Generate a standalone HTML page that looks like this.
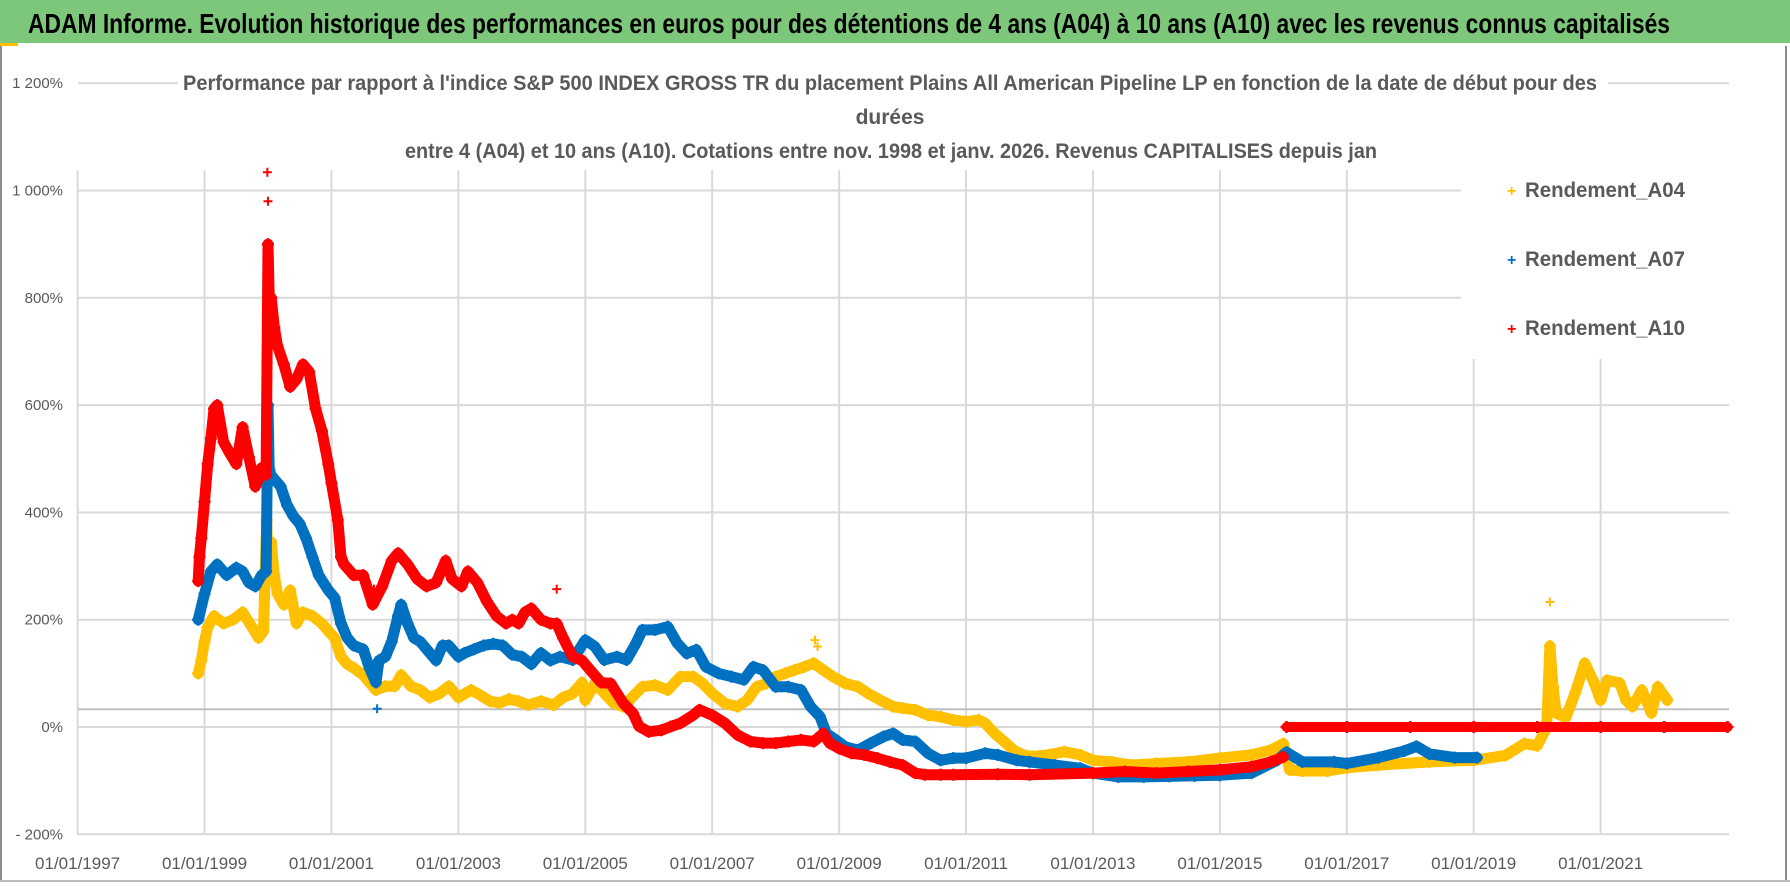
<!DOCTYPE html>
<html><head><meta charset="utf-8">
<style>
html,body{margin:0;padding:0;background:#fff;}
svg{display:block;font-family:"Liberation Sans",sans-serif;}
</style></head>
<body>
<svg id="chart" width="1790" height="886" viewBox="0 0 1790 886" xmlns="http://www.w3.org/2000/svg">
<rect x="0" y="0" width="1790" height="886" fill="#fff"/>
<rect x="0" y="0" width="1790" height="43" fill="#7DC77A"/>
<text x="28" y="33" font-size="28" font-weight="bold" fill="#000" textLength="1642" lengthAdjust="spacingAndGlyphs">ADAM Informe. Evolution historique des performances en euros pour des détentions de 4 ans (A04) à 10 ans (A10) avec les revenus connus capitalisés</text>
<rect x="0" y="43" width="18" height="3" fill="#FFC000"/>
<line x1="1" y1="46" x2="1" y2="880" stroke="#8c8c8c" stroke-width="2"/>
<line x1="1786" y1="46" x2="1786" y2="880" stroke="#8c8c8c" stroke-width="2"/>
<line x1="0" y1="881" x2="1790" y2="881" stroke="#bbb" stroke-width="2"/>
<g id="grid"></g>
<g id="axisLabels"></g>
<rect x="178" y="66" width="1430" height="100" fill="#fff"/>
<g fill="#595959" font-size="21" font-weight="bold" text-anchor="middle">
<text x="890" y="90" textLength="1414" lengthAdjust="spacingAndGlyphs">Performance par rapport à l'indice S&amp;P 500 INDEX GROSS TR  du placement Plains All American Pipeline LP en fonction de la date de début pour des</text>
<text x="890" y="124">durées</text>
<text x="891" y="158" textLength="972" lengthAdjust="spacingAndGlyphs">entre 4 (A04) et 10 ans (A10). Cotations entre nov. 1998 et janv. 2026. Revenus CAPITALISES depuis jan</text>
</g>
<rect x="1461" y="168" width="268" height="191" fill="#fff"/>
<g font-size="21" fill="#595959" font-weight="bold">
<g><text x="1507" y="196" fill="#FFC000" font-size="16">+</text><text x="1525" y="197" textLength="160" lengthAdjust="spacingAndGlyphs">Rendement_A04</text></g>
<g><text x="1507" y="265" fill="#0070C0" font-size="16">+</text><text x="1525" y="266" textLength="160" lengthAdjust="spacingAndGlyphs">Rendement_A07</text></g>
<g><text x="1507" y="334" fill="#FF0000" font-size="16">+</text><text x="1525" y="335" textLength="160" lengthAdjust="spacingAndGlyphs">Rendement_A10</text></g>
</g>
<g id="series"></g>
</svg>
<script>
const yTickValues = [1200,1000,800,600,400,200,0,-200];
const yTickLabels = ["1 200%","1 000%","800%","600%","400%","200%","0%","- 200%"];
const xTickYears = [1997,1999,2001,2003,2005,2007,2009,2011,2013,2015,2017,2019,2021];
const xTickLabels = ["01/01/1997","01/01/1999","01/01/2001","01/01/2003","01/01/2005","01/01/2007","01/01/2009","01/01/2011","01/01/2013","01/01/2015","01/01/2017","01/01/2019","01/01/2021"];
const axisCrossValue = 33;

const a04Years = [1998.9,1998.95,1999.0,1999.05,1999.15,1999.3,1999.45,1999.6,1999.75,1999.85,1999.93,1999.98,2000.0,2000.05,2000.1,2000.15,2000.25,2000.35,2000.45,2000.55,2000.7,2000.85,2000.95,2001.05,2001.15,2001.25,2001.35,2001.5,2001.6,2001.7,2001.85,2002.0,2002.1,2002.25,2002.4,2002.55,2002.7,2002.85,2003.0,2003.2,2003.35,2003.5,2003.65,2003.8,2003.95,2004.1,2004.3,2004.5,2004.65,2004.8,2004.95,2005.0,2005.15,2005.3,2005.45,2005.6,2005.75,2005.9,2006.1,2006.3,2006.5,2006.7,2006.85,2007.0,2007.2,2007.4,2007.55,2007.7,2007.85,2008.0,2008.15,2008.3,2008.45,2008.6,2008.75,2008.9,2009.1,2009.3,2009.45,2009.65,2009.85,2010.0,2010.2,2010.4,2010.6,2010.8,2011.0,2011.2,2011.3,2011.45,2011.6,2011.75,2011.9,2012.05,2012.3,2012.55,2012.8,2013.0,2013.3,2013.6,2014.0,2014.5,2015.0,2015.5,2015.8,2016.0,2016.1,2016.3,2016.7,2017.0,2017.5,2018.3,2019.0,2019.5,2019.8,2020.0,2020.15,2020.2,2020.25,2020.3,2020.45,2020.6,2020.75,2020.9,2021.0,2021.1,2021.3,2021.4,2021.5,2021.65,2021.8,2021.9,2022.05];
const a04Values = [100,124,159,186,207,193,200,214,186,166,179,386,300,345,283,248,228,255,193,214,207,193,179,166,131,117,110,97,83,69,76,76,97,76,69,55,62,76,55,69,59,48,45,52,48,41,48,41,55,62,83,50,81,63,44,38,57,75,78,69,94,94,81,63,44,38,50,75,81,94,100,106,112,119,106,94,81,75,63,50,38,35,32,22,19,13,10,13,7,-12,-27,-43,-52,-55,-52,-46,-52,-62,-65,-71,-68,-65,-58,-52,-43,-31,-80,-82,-82,-76,-71,-65,-62,-53,-31,-35,0,151,75,26,17,64,119,82,50,87,82,50,38,69,26,75,50];
const a04OutYears = [2020.2,2008.62,2008.66];
const a04OutValues = [233,162,150];

const a07Years = [1998.9,1999.0,1999.1,1999.2,1999.35,1999.5,1999.6,1999.7,1999.8,1999.9,1999.97,2000.0,2000.02,2000.05,2000.1,2000.2,2000.3,2000.4,2000.5,2000.6,2000.7,2000.8,2000.95,2001.05,2001.15,2001.25,2001.35,2001.5,2001.6,2001.7,2001.75,2001.85,2001.95,2002.05,2002.1,2002.2,2002.3,2002.4,2002.5,2002.65,2002.75,2002.85,2003.0,2003.1,2003.25,2003.4,2003.55,2003.7,2003.85,2004.0,2004.15,2004.3,2004.45,2004.6,2004.8,2005.0,2005.15,2005.3,2005.5,2005.65,2005.8,2005.9,2006.1,2006.3,2006.45,2006.6,2006.75,2006.9,2007.1,2007.3,2007.5,2007.65,2007.8,2008.0,2008.2,2008.4,2008.55,2008.7,2008.8,2008.95,2009.1,2009.3,2009.5,2009.7,2009.85,2010.0,2010.2,2010.4,2010.6,2010.8,2011.0,2011.3,2011.5,2011.8,2012.0,2012.4,2012.8,2013.0,2013.4,2013.8,2014.2,2014.6,2015.0,2015.5,2015.9,2016.05,2016.3,2016.8,2017.0,2017.5,2017.9,2018.1,2018.3,2018.7,2019.05];
const a07Values = [200,248,290,303,283,297,290,269,262,283,290,600,480,469,462,448,414,393,379,352,317,283,255,241,193,166,152,145,110,83,124,131,159,207,228,193,166,159,145,124,152,152,131,138,145,152,155,152,135,131,117,138,124,131,125,162,150,125,131,125,156,181,181,187,156,137,144,112,100,94,88,112,106,75,75,69,38,19,-12,-24,-37,-43,-30,-18,-12,-24,-27,-49,-62,-58,-58,-49,-52,-62,-65,-71,-77,-86,-93,-93,-92,-91,-90,-86,-62,-47,-65,-65,-68,-57,-45,-36,-50,-57,-57];
const a07OutYears = [1999.99,2000.0,2000.01,2001.72];
const a07OutValues = [700,650,550,34];

const a10Years = [1998.9,1998.92,1998.95,1999.0,1999.05,1999.1,1999.15,1999.2,1999.3,1999.4,1999.5,1999.6,1999.7,1999.8,1999.85,1999.9,1999.97,2000.0,2000.02,2000.05,2000.1,2000.15,2000.25,2000.35,2000.45,2000.55,2000.65,2000.75,2000.85,2000.95,2001.0,2001.1,2001.15,2001.2,2001.35,2001.5,2001.65,2001.8,2001.95,2002.05,2002.2,2002.35,2002.5,2002.65,2002.8,2002.9,2003.05,2003.15,2003.3,2003.45,2003.6,2003.75,2003.85,2003.95,2004.05,2004.15,2004.3,2004.45,2004.55,2004.65,2004.8,2004.95,2005.1,2005.25,2005.4,2005.6,2005.75,2005.85,2006.0,2006.2,2006.35,2006.5,2006.7,2006.8,2007.0,2007.2,2007.4,2007.6,2007.8,2008.0,2008.2,2008.4,2008.6,2008.75,2008.85,2009.0,2009.2,2009.4,2009.6,2009.8,2010.0,2010.2,2010.35,2010.6,2010.8,2011.5,2012.0,2013.0,2013.5,2014.0,2014.5,2015.0,2015.5,2015.8,2016.0];
const a10Values = [272,317,352,420,490,538,593,600,531,510,490,559,503,448,462,483,470,900,800,800,745,710,676,634,648,676,662,593,552,490,455,386,317,303,283,283,228,262,310,324,303,276,262,269,310,276,262,290,269,234,207,193,200,193,214,221,200,193,193,166,131,124,103,83,81,44,26,1,-9,-6,1,7,22,32,22,7,-15,-27,-30,-30,-27,-24,-27,-12,-30,-40,-49,-52,-58,-65,-71,-86,-89,-89,-89,-88,-89,-86,-83,-86,-83,-80,-74,-65,-56];
const a10FlatYears = [2016.05,2017,2018,2019,2020,2021,2022,2023];
const a10FlatValues = [0,0,0,0,0,0,0,0];
const a10OutYears = [1999.99,2000.0,2000.01,2000.03,2001.67,2004.55];
const a10OutValues = [1034,980,880,740,257,257];

const NS = "http://www.w3.org/2000/svg";
const X0 = 77.6, PX_PER_YEAR = 63.46, Y0 = 727, PX_PER_PCT = 0.5365;
const PLOT_LEFT = 78, PLOT_RIGHT = 1729, PLOT_TOP = 170, PLOT_BOTTOM = 835;
function xScale(year){ return X0 + (year - 1997) * PX_PER_YEAR; }
function yScale(v){ return Y0 - v * PX_PER_PCT; }
function mk(tag, attrs, parent){
  const el = document.createElementNS(NS, tag);
  for (const k in attrs) el.setAttribute(k, attrs[k]);
  parent.appendChild(el);
  return el;
}
const grid = document.getElementById('grid');
const labels = document.getElementById('axisLabels');
yTickValues.forEach((v, i) => {
  const y = yScale(v);
  const ln = mk('line', {x1: PLOT_LEFT, x2: PLOT_RIGHT, y1: y, y2: y, stroke: '#d9d9d9', 'stroke-width': 2}, grid);
  
  
  const t = mk('text', {x: 63, y: y + 5, 'text-anchor': 'end', 'font-size': 15, fill: '#595959'}, labels);
  t.textContent = yTickLabels[i];
  
  
});
xTickYears.forEach((yr, i) => {
  const x = xScale(yr);
  const top = (x > 1461) ? 359 : PLOT_TOP;
  const ln = mk('line', {x1: x, x2: x, y1: top, y2: PLOT_BOTTOM, stroke: '#d9d9d9', 'stroke-width': 2}, grid);
  
  
  const t = mk('text', {x: x, y: 869, 'text-anchor': 'middle', 'font-size': 17, fill: '#595959'}, labels);
  t.textContent = xTickLabels[i];
  
  
});
const axisY = yScale(axisCrossValue);
const axl = mk('line', {x1: PLOT_LEFT, x2: PLOT_RIGHT, y1: axisY, y2: axisY, stroke: '#bfbfbf', 'stroke-width': 2}, grid);



const seriesG = document.getElementById('series');
function plusPath(x, y, s){ return `M${x-s},${y}H${x+s}M${x},${y-s}V${y+s}`; }
function drawSeries(name, years, values, color, width){
  const g = mk('g', {}, seriesG);
  
  
  const n = Math.min(years.length, values.length);
  const pts = [];
  let d = '';
  for (let i = 0; i < n; i++){
    const x = xScale(years[i]), y = yScale(values[i]);
    pts.push(x.toFixed(1) + ',' + y.toFixed(1));
    d += plusPath(x, y, 6);
  }
  const pl = mk('polyline', {points: pts.join(' '), fill: 'none', stroke: color, 'stroke-width': width, 'stroke-linejoin': 'round', 'stroke-linecap': 'round'}, g);
  
  
  const mp = mk('path', {d: d, stroke: color, 'stroke-width': 2.6, fill: 'none'}, g);
  
  
}
function drawPoints(name, years, values, color){
  const n = Math.min(years.length, values.length);
  let d = '';
  for (let i = 0; i < n; i++) d += plusPath(xScale(years[i]), yScale(values[i]), 4.5);
  const p = mk('path', {d: d, stroke: color, 'stroke-width': 2, fill: 'none'}, seriesG);
  
  
}
drawSeries('series-a04', a04Years, a04Values, '#FFC000', 11);
drawPoints('series-a04-outliers', a04OutYears, a04OutValues, '#FFC000');
drawSeries('series-a07', a07Years, a07Values, '#0070C0', 11);
drawPoints('series-a07-outliers', a07OutYears, a07OutValues, '#0070C0');
drawSeries('series-a10', a10Years, a10Values, '#FF0000', 11);
drawSeries('series-a10-flat', a10FlatYears, a10FlatValues, '#FF0000', 10);
drawPoints('series-a10-outliers', a10OutYears, a10OutValues, '#FF0000');
</script>
</body></html>
